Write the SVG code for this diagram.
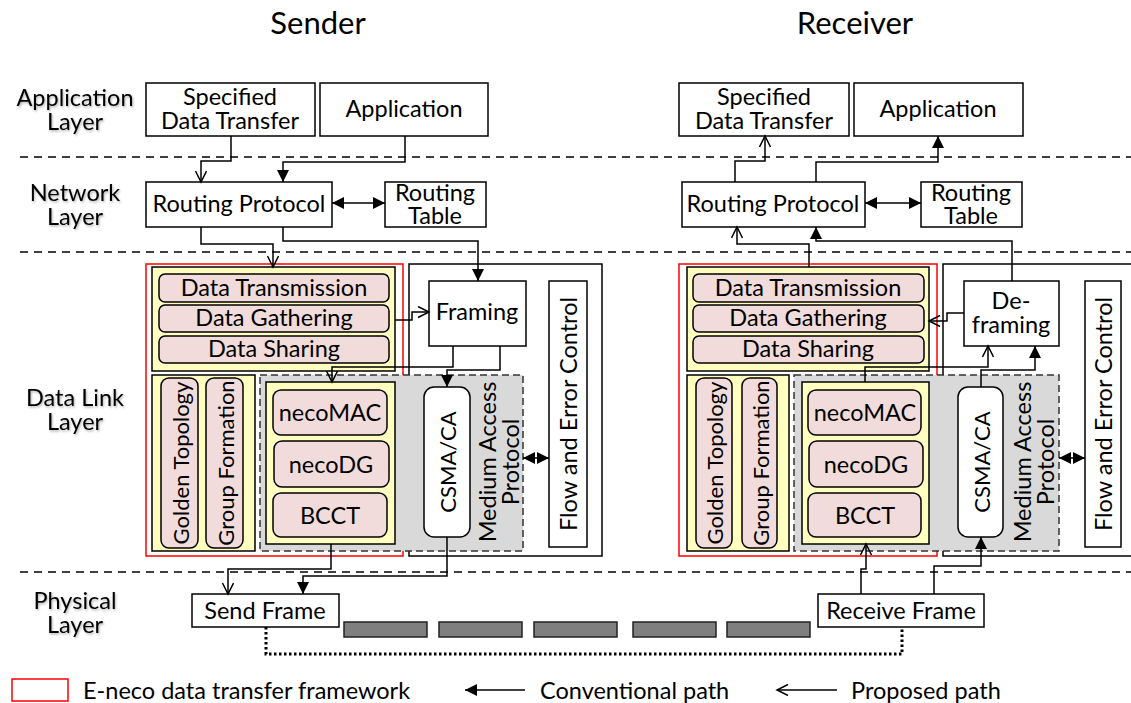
<svg xmlns="http://www.w3.org/2000/svg" width="1131" height="703" viewBox="0 0 1131 703">
<style>
text{font-family:Lato,"Liberation Sans",sans-serif;fill:#000;}
.t{font-size:23.5px;text-anchor:middle;dominant-baseline:central;}
.v{font-size:22px;text-anchor:middle;dominant-baseline:central;}
.lay{font-size:23.5px;text-anchor:middle;dominant-baseline:central;filter:url(#sh);}
.leg{font-size:23.5px;dominant-baseline:central;}
.title{font-size:31px;text-anchor:middle;dominant-baseline:central;}
.box{fill:#fff;stroke:#000;stroke-width:1.5;}
.yel{fill:#ffffc0;stroke:#000;stroke-width:1.5;}
.pink{fill:#f2dcdb;stroke:#000;stroke-width:1.5;}
.gray{fill:#d9d9d9;stroke:#333;stroke-width:1.5;stroke-dasharray:7,4;}
.red{fill:none;stroke:#ff0000;stroke-width:1.5;}
.sep{stroke:#000;stroke-width:1.5;stroke-dasharray:8,6;fill:none;}
.blk{fill:#7f7f7f;stroke:#222;stroke-width:1.5;}
.c{fill:none;stroke:#000;stroke-width:1.5;}
.cf{marker-end:url(#af);}
.co{marker-end:url(#ao);}
.dbl{marker-start:url(#af);marker-end:url(#af);}
</style>
<defs>
<filter id="sh" x="-10%" y="-30%" width="120%" height="160%"><feDropShadow dx="1" dy="1.5" stdDeviation="1.2" flood-color="#000" flood-opacity="0.3"/></filter>
<marker id="af" markerUnits="userSpaceOnUse" markerWidth="14" markerHeight="14" refX="12" refY="6" orient="auto-start-reverse" viewBox="0 0 14 14"><path d="M0,0 L12,6 L0,12 z" fill="#000"/></marker>
<marker id="ao" markerUnits="userSpaceOnUse" markerWidth="14" markerHeight="14" refX="12" refY="6" orient="auto" viewBox="0 0 14 14"><path d="M1,0.5 L12,6 L1,11.5" fill="none" stroke="#000" stroke-width="1.5"/></marker>
</defs>
<rect width="1131" height="703" fill="#fff"/>

<text class="title" x="318" y="22">Sender</text>
<text class="title" x="855" y="22">Receiver</text>

<g id="separators">
<line class="sep" x1="20" y1="157" x2="1131" y2="157"/>
<line class="sep" x1="20" y1="252" x2="1131" y2="252"/>
<line class="sep" x1="20" y1="572" x2="1131" y2="572"/>
</g>

<g id="layer-labels">
<text class="lay" x="75" y="97">Application</text><text class="lay" x="75" y="121">Layer</text>
<text class="lay" x="75" y="192">Network</text><text class="lay" x="75" y="216">Layer</text>
<text class="lay" x="75" y="397">Data Link</text><text class="lay" x="75" y="421">Layer</text>
<text class="lay" x="75" y="600">Physical</text><text class="lay" x="75" y="624">Layer</text>
</g>

<!-- Sender -->
<g id="s-sdt"><rect class="box" x="146" y="83" width="169" height="53"/><text class="t" x="230" y="96">Specified</text><text class="t" x="230" y="120">Data Transfer</text></g>
<g id="s-app"><rect class="box" x="320" y="83" width="168" height="53"/><text class="t" x="404" y="108">Application</text></g>
<g id="s-rp"><rect class="box" x="146" y="182" width="186" height="45"/><text class="t" x="239" y="203">Routing Protocol</text></g>
<g id="s-rt"><rect class="box" x="385" y="182" width="101" height="45"/><text class="t" x="435" y="192">Routing</text><text class="t" x="435" y="215">Table</text></g>
<g id="s-dl-container"><rect class="box" x="409" y="264" width="193" height="292"/></g>
<g id="s-framework"><rect class="red" x="146" y="264" width="257" height="292"/></g>
<g id="s-top"><rect class="yel" x="152" y="267" width="243" height="104"/>
<rect class="pink" x="159" y="274" width="230" height="28" rx="6"/><text class="t" x="274" y="287">Data Transmission</text>
<rect class="pink" x="159" y="305" width="230" height="27" rx="6"/><text class="t" x="274" y="317">Data Gathering</text>
<rect class="pink" x="159" y="336" width="230" height="27" rx="6"/><text class="t" x="274" y="348">Data Sharing</text></g>
<g id="s-left"><rect class="yel" x="152" y="375" width="103" height="176"/>
<rect class="pink" x="161" y="378" width="37" height="170" rx="8"/><text class="v" transform="translate(180,463) rotate(-90)">Golden Topology</text>
<rect class="pink" x="206" y="378" width="37" height="170" rx="8"/><text class="v" transform="translate(225,463) rotate(-90)">Group Formation</text></g>
<g id="s-map"><rect class="gray" x="260" y="375" width="263" height="176"/>
<text class="t" transform="translate(487,462) rotate(-90)">Medium Access</text><text class="t" transform="translate(510,462) rotate(-90)">Protocol</text></g>
<g id="s-neco"><rect class="yel" x="266" y="382" width="129" height="162"/>
<rect class="pink" x="273" y="390" width="114" height="45" rx="8"/><text class="t" x="330" y="412">necoMAC</text>
<rect class="pink" x="274" y="441" width="115" height="46" rx="8"/><text class="t" x="331" y="464">necoDG</text>
<rect class="pink" x="273" y="493" width="114" height="44" rx="8"/><text class="t" x="330" y="515">BCCT</text></g>
<g id="s-csma"><rect class="box" x="424" y="387" width="46" height="150" rx="10"/><text class="v" transform="translate(447,462) rotate(-90)">CSMA/CA</text></g>
<g id="s-framing"><rect class="box" x="429" y="281" width="97" height="65"/><text class="t" x="477" y="311">Framing</text></g>
<g id="s-fec"><rect class="box" x="549" y="281" width="38" height="266"/><text class="t" transform="translate(568,414) rotate(-90)">Flow and Error Control</text></g>
<g id="s-send"><rect class="box" x="192" y="594" width="147" height="33"/><text class="t" x="265" y="610">Send Frame</text></g>

<!-- Receiver -->
<g id="r-sdt"><rect class="box" x="679" y="83" width="170" height="53"/><text class="t" x="764" y="96">Specified</text><text class="t" x="764" y="120">Data Transfer</text></g>
<g id="r-app"><rect class="box" x="854" y="83" width="169" height="53"/><text class="t" x="938" y="108">Application</text></g>
<g id="r-rp"><rect class="box" x="682" y="182" width="183" height="45"/><text class="t" x="773" y="203">Routing Protocol</text></g>
<g id="r-rt"><rect class="box" x="921" y="182" width="101" height="45"/><text class="t" x="971" y="192">Routing</text><text class="t" x="971" y="215">Table</text></g>
<g id="r-dl-container"><rect class="box" x="943" y="264" width="200" height="292"/></g>
<g id="r-framework"><rect class="red" x="679" y="264" width="258" height="292"/></g>
<g id="r-top"><rect class="yel" x="687" y="267" width="242" height="104"/>
<rect class="pink" x="693" y="274" width="231" height="28" rx="6"/><text class="t" x="808" y="287">Data Transmission</text>
<rect class="pink" x="693" y="305" width="231" height="27" rx="6"/><text class="t" x="808" y="317">Data Gathering</text>
<rect class="pink" x="693" y="336" width="231" height="27" rx="6"/><text class="t" x="808" y="348">Data Sharing</text></g>
<g id="r-left"><rect class="yel" x="687" y="375" width="102" height="176"/>
<rect class="pink" x="696" y="378" width="36" height="170" rx="8"/><text class="v" transform="translate(714,463) rotate(-90)">Golden Topology</text>
<rect class="pink" x="742" y="378" width="35" height="170" rx="8"/><text class="v" transform="translate(760,463) rotate(-90)">Group Formation</text></g>
<g id="r-map"><rect class="gray" x="794" y="375" width="265" height="176"/>
<text class="t" transform="translate(1022,462) rotate(-90)">Medium Access</text><text class="t" transform="translate(1045,462) rotate(-90)">Protocol</text></g>
<g id="r-neco"><rect class="yel" x="802" y="382" width="127" height="162"/>
<rect class="pink" x="808" y="390" width="113" height="45" rx="8"/><text class="t" x="865" y="412">necoMAC</text>
<rect class="pink" x="809" y="441" width="114" height="46" rx="8"/><text class="t" x="866" y="464">necoDG</text>
<rect class="pink" x="808" y="493" width="113" height="44" rx="8"/><text class="t" x="865" y="515">BCCT</text></g>
<g id="r-csma"><rect class="box" x="958" y="387" width="45" height="150" rx="10"/><text class="v" transform="translate(981,462) rotate(-90)">CSMA/CA</text></g>
<g id="r-deframing"><rect class="box" x="964" y="281" width="95" height="65"/><text class="t" x="1011" y="300">De-</text><text class="t" x="1011" y="324">framing</text></g>
<g id="r-fec"><rect class="box" x="1085" y="281" width="36" height="266"/><text class="t" transform="translate(1103,414) rotate(-90)">Flow and Error Control</text></g>
<g id="r-receive"><rect class="box" x="818" y="594" width="166" height="33"/><text class="t" x="901" y="610">Receive Frame</text></g>

<g id="channel">
<rect class="blk" x="344" y="622" width="83" height="15"/>
<rect class="blk" x="439" y="622" width="83" height="15"/>
<rect class="blk" x="534" y="622" width="83" height="15"/>
<rect class="blk" x="633" y="622" width="83" height="15"/>
<rect class="blk" x="727" y="622" width="83" height="15"/>
</g>

<g id="connectors">
<polyline class="c co" points="231,136 231,161 201,161 201,182"/>
<polyline class="c cf" points="405,136 405,162 283,162 283,182"/>
<line class="c dbl" x1="332" y1="203" x2="385" y2="203"/>
<polyline class="c co" points="201,227 201,244 273,244 273,267"/>
<polyline class="c cf" points="283,227 283,241 478,241 478,281"/>
<polyline class="c co" points="395,320 412,320 412,312 429,312"/>
<polyline class="c co" points="453,346 453,367 332,367 332,382"/>
<polyline class="c cf" points="500,346 500,370 447,370 447,387"/>
<polyline class="c co" points="331,544 331,569 228,569 228,594"/>
<polyline class="c cf" points="447,537 447,576 303,576 303,594"/>
<line class="c dbl" x1="523" y1="458" x2="549" y2="458"/>

<polyline class="c co" points="735,182 735,161 765,161 765,136"/>
<polyline class="c cf" points="816,182 816,162 938,162 938,136"/>
<line class="c dbl" x1="865" y1="203" x2="921" y2="203"/>
<polyline class="c co" points="809,267 809,244 737,244 737,227"/>
<polyline class="c cf" points="1012,281 1012,241 816,241 816,227"/>
<polyline class="c co" points="964,313 947,313 947,321 929,321"/>
<polyline class="c co" points="865,382 865,367 988,367 988,346"/>
<polyline class="c cf" points="981,387 981,370 1035,370 1035,346"/>
<polyline class="c co" points="861,594 861,569 866,569 866,544"/>
<polyline class="c cf" points="934,594 934,566 981,566 981,537"/>
<line class="c dbl" x1="1059" y1="458" x2="1085" y2="458"/>

<polyline fill="none" stroke="#000" stroke-width="3" stroke-dasharray="2.5,2.5" points="266,627 266,654 902,654 902,627"/>
</g>

<g id="legend">
<rect class="red" x="12" y="679" width="56" height="22"/>
<text class="leg" x="83" y="690">E-neco data transfer framework</text>
<line class="c cf" x1="525" y1="690" x2="465" y2="690"/>
<text class="leg" x="540" y="690">Conventional path</text>
<line class="c co" x1="837" y1="690" x2="777" y2="690"/>
<text class="leg" x="851" y="690">Proposed path</text>
</g>
</svg>
